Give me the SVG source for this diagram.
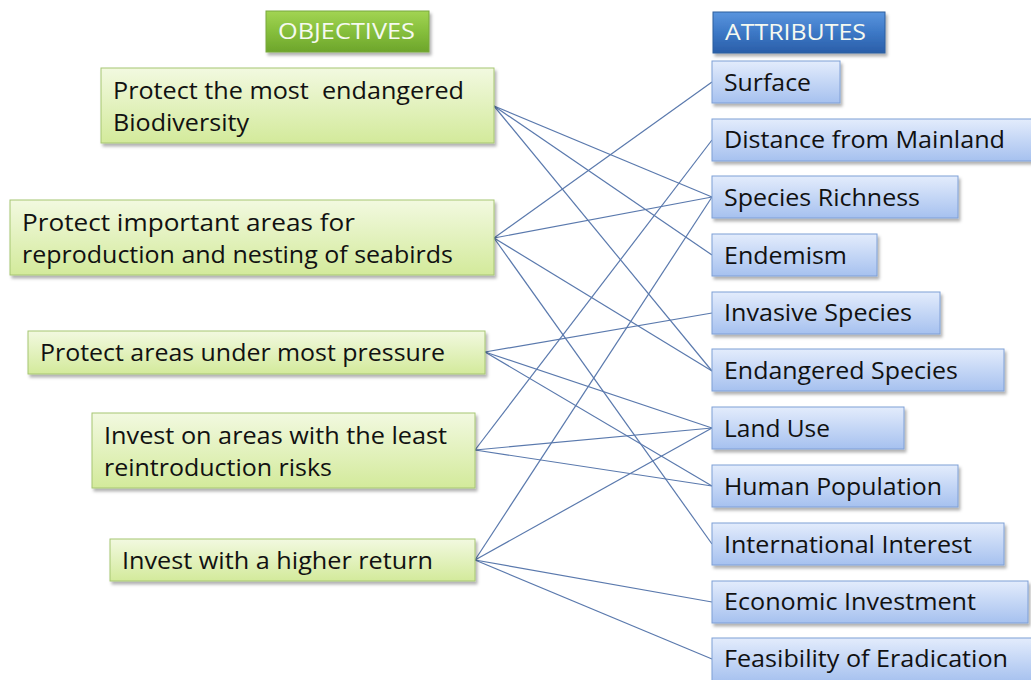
<svg xmlns="http://www.w3.org/2000/svg" width="1031" height="680" viewBox="0 0 1031 680">
  <defs>
    <linearGradient id="gObjHead" x1="0" y1="0" x2="0" y2="1">
      <stop offset="0" stop-color="#a2d453"/>
      <stop offset="0.5" stop-color="#86bf3c"/>
      <stop offset="1" stop-color="#6da52b"/>
    </linearGradient>
    <linearGradient id="gAttrHead" x1="0" y1="0" x2="0" y2="1">
      <stop offset="0" stop-color="#5b95de"/>
      <stop offset="0.5" stop-color="#3c78c6"/>
      <stop offset="1" stop-color="#2a5ea8"/>
    </linearGradient>
    <linearGradient id="gObj" x1="0" y1="0" x2="0" y2="1">
      <stop offset="0" stop-color="#f2f9e0"/>
      <stop offset="1" stop-color="#d3ea9b"/>
    </linearGradient>
    <linearGradient id="gAttr" x1="0" y1="0" x2="0" y2="1">
      <stop offset="0" stop-color="#e3ecfc"/>
      <stop offset="1" stop-color="#a6c1ef"/>
    </linearGradient>
    <filter id="shadow" x="-10%" y="-20%" width="120%" height="160%">
      <feDropShadow dx="2" dy="3" stdDeviation="1.8" flood-color="#000" flood-opacity="0.3"/>
    </filter>
  </defs>
  <style>
    text { font-family: "Open Sans", "Noto Sans", "Liberation Sans", sans-serif; font-size: 23px; fill: #111; }
    .head text { font-size: 21px; fill: #f5f9f0; }
    .obj rect { fill: url(#gObj); stroke: #a6c573; stroke-width: 1; filter: url(#shadow); }
    .attr rect { fill: url(#gAttr); stroke: #7e9fd6; stroke-width: 1; filter: url(#shadow); }
    #hdr-objectives rect { fill: url(#gObjHead); stroke: #79a83c; stroke-width: 1; filter: url(#shadow); }
    #hdr-attributes rect { fill: url(#gAttrHead); stroke: #2d5e9e; stroke-width: 1; filter: url(#shadow); }
    #connectors line { stroke: #5a79ad; stroke-width: 1.2; }
  </style>

  <rect width="1031" height="680" fill="#ffffff"/>

  <!-- links between objectives and attributes -->
  <g id="connectors">
    <!-- Protect the most endangered Biodiversity -->
    <line x1="494" y1="106" x2="712" y2="197"/>
    <line x1="494" y1="106" x2="712" y2="255"/>
    <line x1="494" y1="106" x2="712" y2="371"/>
    <!-- Protect important areas for reproduction and nesting of seabirds -->
    <line x1="494" y1="238" x2="712" y2="82"/>
    <line x1="494" y1="238" x2="712" y2="197"/>
    <line x1="494" y1="238" x2="712" y2="371"/>
    <line x1="494" y1="238" x2="712" y2="544"/>
    <!-- Protect areas under most pressure -->
    <line x1="485" y1="352" x2="712" y2="313"/>
    <line x1="485" y1="352" x2="712" y2="428"/>
    <line x1="485" y1="352" x2="712" y2="486"/>
    <!-- Invest on areas with the least reintroduction risks -->
    <line x1="475" y1="450" x2="712" y2="140"/>
    <line x1="475" y1="450" x2="712" y2="428"/>
    <line x1="475" y1="450" x2="712" y2="486"/>
    <!-- Invest with a higher return -->
    <line x1="475" y1="560" x2="712" y2="197"/>
    <line x1="475" y1="560" x2="712" y2="428"/>
    <line x1="475" y1="560" x2="712" y2="602"/>
    <line x1="475" y1="560" x2="712" y2="659"/>
  </g>

  <!-- column headers -->
  <g class="head">
    <g id="hdr-objectives">
      <rect x="266" y="11" width="163" height="41"/>
      <text x="278" y="39" textLength="137" lengthAdjust="spacingAndGlyphs">OBJECTIVES</text>
    </g>
    <g id="hdr-attributes">
      <rect x="713" y="12" width="172" height="41"/>
      <text x="725" y="40" textLength="141" lengthAdjust="spacingAndGlyphs">ATTRIBUTES</text>
    </g>
  </g>

  <!-- objectives -->
  <g class="obj">
    <g id="obj-biodiversity">
      <rect x="101" y="68" width="393" height="75"/>
      <text x="113" y="99" textLength="351" lengthAdjust="spacingAndGlyphs" xml:space="preserve">Protect the most  endangered</text>
      <text x="113" y="131" textLength="136" lengthAdjust="spacingAndGlyphs">Biodiversity</text>
    </g>
    <g id="obj-seabirds">
      <rect x="10" y="200" width="484" height="75"/>
      <text x="22" y="231" textLength="333" lengthAdjust="spacingAndGlyphs">Protect important areas for</text>
      <text x="22" y="263" textLength="431" lengthAdjust="spacingAndGlyphs">reproduction and nesting of seabirds</text>
    </g>
    <g id="obj-pressure">
      <rect x="28" y="331" width="457" height="43"/>
      <text x="40" y="361" textLength="405" lengthAdjust="spacingAndGlyphs">Protect areas under most pressure</text>
    </g>
    <g id="obj-risks">
      <rect x="92" y="413" width="383" height="75"/>
      <text x="104" y="444" textLength="343" lengthAdjust="spacingAndGlyphs">Invest on areas with the least</text>
      <text x="104" y="476" textLength="228" lengthAdjust="spacingAndGlyphs">reintroduction risks</text>
    </g>
    <g id="obj-return">
      <rect x="110" y="539" width="365" height="42"/>
      <text x="122" y="569" textLength="311" lengthAdjust="spacingAndGlyphs">Invest with a higher return</text>
    </g>
  </g>

  <!-- attributes -->
  <g class="attr">
    <g id="attr-surface">
      <rect x="712" y="61" width="128" height="42"/>
      <text x="724" y="90.5" textLength="87" lengthAdjust="spacingAndGlyphs">Surface</text>
    </g>
    <g id="attr-distance">
      <rect x="712" y="119" width="322" height="42"/>
      <text x="724" y="148" textLength="281" lengthAdjust="spacingAndGlyphs">Distance from Mainland</text>
    </g>
    <g id="attr-richness">
      <rect x="712" y="176" width="246" height="42"/>
      <text x="724" y="206" textLength="196" lengthAdjust="spacingAndGlyphs">Species Richness</text>
    </g>
    <g id="attr-endemism">
      <rect x="712" y="234" width="165" height="42"/>
      <text x="724" y="263.5" textLength="123" lengthAdjust="spacingAndGlyphs">Endemism</text>
    </g>
    <g id="attr-invasive">
      <rect x="712" y="292" width="228" height="42"/>
      <text x="724" y="321" textLength="188" lengthAdjust="spacingAndGlyphs">Invasive Species</text>
    </g>
    <g id="attr-endangered">
      <rect x="712" y="349" width="292" height="42"/>
      <text x="724" y="379" textLength="234" lengthAdjust="spacingAndGlyphs">Endangered Species</text>
    </g>
    <g id="attr-landuse">
      <rect x="712" y="407" width="192" height="42"/>
      <text x="724" y="437" textLength="106" lengthAdjust="spacingAndGlyphs">Land Use</text>
    </g>
    <g id="attr-population">
      <rect x="712" y="465" width="246" height="42"/>
      <text x="724" y="495" textLength="218" lengthAdjust="spacingAndGlyphs">Human Population</text>
    </g>
    <g id="attr-international">
      <rect x="712" y="523" width="292" height="42"/>
      <text x="724" y="553" textLength="248" lengthAdjust="spacingAndGlyphs">International Interest</text>
    </g>
    <g id="attr-economic">
      <rect x="712" y="581" width="316" height="42"/>
      <text x="724" y="610" textLength="252" lengthAdjust="spacingAndGlyphs">Economic Investment</text>
    </g>
    <g id="attr-feasibility">
      <rect x="712" y="638" width="322" height="44"/>
      <text x="724" y="667" textLength="284" lengthAdjust="spacingAndGlyphs">Feasibility of Eradication</text>
    </g>
  </g>
</svg>
